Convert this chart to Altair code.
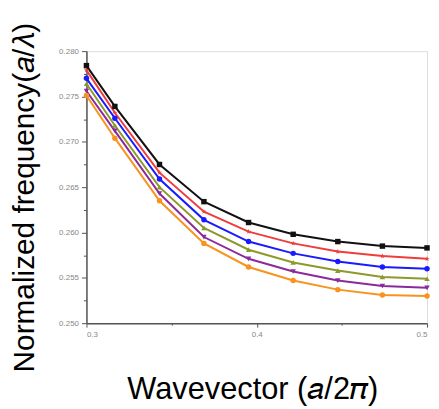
import altair as alt
import pandas as pd

kx = [0.3, 0.3167, 0.3429, 0.369, 0.3952, 0.4214, 0.4476, 0.4738, 0.5]
series_names = ["s1", "s2", "s3", "s4", "s5", "s6"]
s1 = [0.2784, 0.2739, 0.2675, 0.2634, 0.2611, 0.2598, 0.2590, 0.2585, 0.2583]
s2 = [0.2779, 0.2732, 0.2666, 0.2623, 0.2601, 0.2588, 0.2579, 0.2574, 0.2571]
s3 = [0.2770, 0.2726, 0.2659, 0.2614, 0.2590, 0.2577, 0.2568, 0.2562, 0.2560]
s4 = [0.2764, 0.2718, 0.2650, 0.2605, 0.2581, 0.2567, 0.2558, 0.2551, 0.2549]
s5 = [0.2756, 0.2712, 0.2643, 0.2595, 0.2571, 0.2557, 0.2547, 0.2541, 0.2539]
s6 = [0.2751, 0.2704, 0.2635, 0.2588, 0.2562, 0.2547, 0.2537, 0.2531, 0.2530]
y_ticks = [0.25, 0.2525, 0.255, 0.2575, 0.26, 0.2625, 0.265, 0.2675, 0.27, 0.2725, 0.275, 0.2775, 0.28]
x_ticks = [0.3, 0.35, 0.4, 0.45, 0.5]

colors = ["#111111", "#f03c3c", "#1a1aff", "#8c9a2a", "#8b2a9b", "#f7931e"]
star = "M0,-1L0.24,-0.31L0.95,-0.31L0.38,0.12L0.59,0.81L0,0.4L-0.59,0.81L-0.38,0.12L-0.95,-0.31L-0.24,-0.31Z"
shapes = ["square", star, "circle", "triangle-up", "triangle-down", "circle"]

rows = []
for name, vals in zip(series_names, [s1, s2, s3, s4, s5, s6]):
    for x, y in zip(kx, vals):
        rows.append({"k": x, "f": y, "series": name})
df = pd.DataFrame(rows)

xscale = alt.Scale(domain=[0.3, 0.5], nice=False, zero=False)
yscale = alt.Scale(domain=[0.25, 0.28], nice=False, zero=False)
cscale = alt.Scale(domain=series_names, range=colors)
sscale = alt.Scale(domain=series_names, range=shapes)

xaxis = alt.Axis(
    values=x_ticks,
    labelExpr="round(datum.value*100) % 10 == 0 ? format(datum.value, '.1f') : ''",
    tickSize={"condition": {"test": "round(datum.value*100) % 10 == 0", "value": 4}, "value": 2},
    title="Wavevector (𝑎/2𝜋)",
    titleFont="Liberation Sans",
    titleFontSize=31,
    titleFontWeight="normal",
    titleColor="#000000",
    titleX=167,
    titleY=76,
    titleAlign="center",
    titleBaseline="alphabetic",
    labelFontSize=8,
    labelColor="#888888",
    labelFont="Liberation Sans",
    labelPadding=3,
    domainColor="#555555",
    tickColor="#555555",
    domainWidth=1.5,
    grid=False,
)
yaxis = alt.Axis(
    values=y_ticks,
    labelExpr="round(datum.value*10000) % 50 == 0 ? format(datum.value, '.3f') : ''",
    tickSize={"condition": {"test": "round(datum.value*10000) % 50 == 0", "value": 5}, "value": 3},
    title="Normalized frequency(𝑎/𝜆)",
    titleFont="Liberation Sans",
    titleFontSize=30,
    titleFontWeight="normal",
    titleColor="#000000",
    titleX=-47,
    titleY=147,
    titleAngle=270,
    titleAlign="center",
    titleBaseline="bottom",
    labelFontSize=8,
    labelColor="#888888",
    labelFont="Liberation Sans",
    labelPadding=3,
    domainColor="#555555",
    tickColor="#555555",
    domainWidth=1.5,
    grid=False,
)

base = alt.Chart(df).encode(
    x=alt.X("k:Q", scale=xscale, axis=xaxis),
    y=alt.Y("f:Q", scale=yscale, axis=yaxis),
    color=alt.Color("series:N", scale=cscale, legend=None),
)
lines = base.mark_line(strokeWidth=2)
points = base.mark_point(filled=True, size=30, opacity=1).encode(
    shape=alt.Shape("series:N", scale=sscale, legend=None)
)

chart = (
    alt.layer(lines, points)
    .properties(
        width=343,
        height=274,
        autosize=alt.AutoSizeParams(type="none"),
        padding={"left": 79, "top": 42, "right": 4, "bottom": 85},
    )
    .configure_view(stroke="#cccccc", strokeWidth=1.5)
    .configure(background="white")
)

chart.save("out.html", embed_options={"renderer": "svg", "actions": False})
